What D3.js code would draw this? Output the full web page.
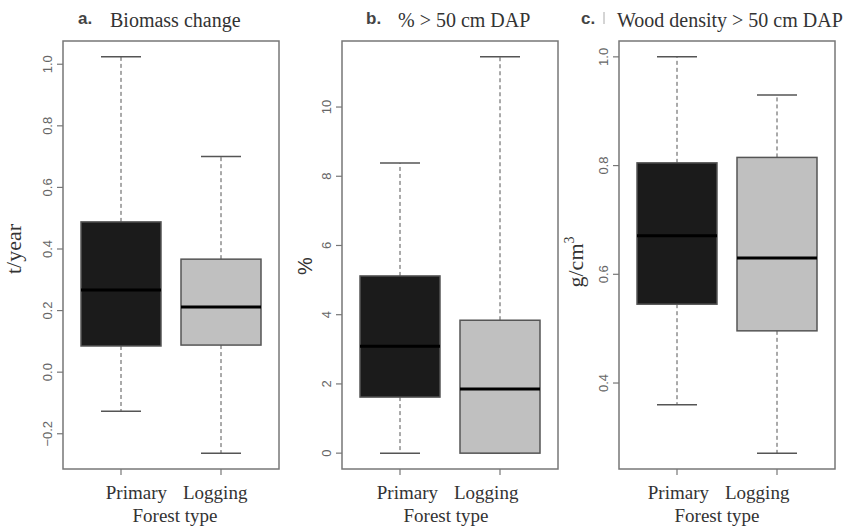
<!DOCTYPE html>
<meta charset="utf-8">
<style>
body { margin:0; background:#fff; }
svg { display:block; }
.tick-label { font-family:"Liberation Sans", Arial, sans-serif; font-size:13px; fill:#666; }
.serif { font-family:"Liberation Serif", "Times New Roman", serif; fill:#333; }
.letter { font-family:"Liberation Sans", Arial, sans-serif; font-weight:bold; font-size:17px; fill:#444; }
.frame { fill:none; stroke:#777; stroke-width:1.5px; }
</style>
<body>
<script src="https://d3js.org/d3.v7.min.js"></script>
<script>

// five-number summaries: [lower whisker, Q1, median, Q3, upper whisker]
var groups = ["Primary", "Logging"];
var biomassStats = [[-0.127, 0.085, 0.267, 0.488, 1.024], [-0.263, 0.088, 0.212, 0.367, 0.70]];
var dapStats     = [[0, 1.62, 3.09, 5.12, 8.38], [0, 0, 1.85, 3.84, 11.45]];
var densityStats = [[0.36, 0.545, 0.671, 0.805, 1.0], [0.271, 0.496, 0.63, 0.815, 0.93]];
var biomassTicks = [-0.2, 0, 0.2, 0.4, 0.6, 0.8, 1.0];
var dapTicks     = [0, 2, 4, 6, 8, 10];
var densityTicks = [0.4, 0.6, 0.8, 1.0];

var fills = ["#1b1b1b", "#c0c0c0"];

var panels = [
  {letter:"a.", title:"Biomass change", ylab:"t/year", stats:biomassStats, ticks:biomassTicks, fmt:d3.format(".1f"),
   left:63, letterX:78, titleX:110, ylabX:21, ylabY:249, shift:4, sans:false},
  {letter:"b.", title:"% > 50 cm DAP", ylab:"%", stats:dapStats, ticks:dapTicks, fmt:d3.format("d"),
   left:342, letterX:366, titleX:398, ylabX:312, ylabY:266, shift:-4, sans:true},
  {letter:"c.", title:"Wood density > 50 cm DAP", ylab:"g/cm", stats:densityStats, ticks:densityTicks, fmt:d3.format(".1f"),
   left:619, letterX:581, titleX:617, barX:604, ylabX:583, ylabY:262, shift:-10, sans:false, sup:"3"}
];

var W = 844, H = 526, plotTop = 41, plotBottom = 469, pw = 216;

var svg = d3.select("body").append("svg").attr("width", W).attr("height", H);

panels.forEach(function(p){
  var g = svg.append("g");
  var lo = d3.min(p.stats, d => d[0]), hi = d3.max(p.stats, d => d[4]);
  var pad = (hi - lo) * 0.04;
  var y = d3.scaleLinear().domain([lo - pad, hi + pad]).range([plotBottom, plotTop]);
  var x = d3.scaleLinear().domain([0.42, 2.58]).range([p.left, p.left + pw]);
  var bw = x(1.4) - x(1);

  p.stats.forEach(function(s, i){
    var cx = x(i + 1);
    // whiskers
    g.append("line").attr("x1", cx).attr("x2", cx).attr("y1", y(s[3])).attr("y2", y(s[4]))
      .attr("stroke", "#555").attr("stroke-dasharray", "4,3");
    g.append("line").attr("x1", cx).attr("x2", cx).attr("y1", y(s[1])).attr("y2", y(s[0]))
      .attr("stroke", "#555").attr("stroke-dasharray", "4,3");
    [s[0], s[4]].forEach(function(v){
      g.append("line").attr("x1", cx - bw/2).attr("x2", cx + bw/2).attr("y1", y(v)).attr("y2", y(v))
        .attr("stroke", "#555").attr("stroke-width", 1.5);
    });
    g.append("rect").attr("x", cx - bw).attr("width", bw*2)
      .attr("y", y(s[3])).attr("height", Math.max(0, y(s[1]) - y(s[3])))
      .attr("fill", fills[i]).attr("stroke", "#555").attr("stroke-width", 1.5);
    g.append("line").attr("x1", cx - bw).attr("x2", cx + bw).attr("y1", y(s[2])).attr("y2", y(s[2]))
      .attr("stroke", "#000").attr("stroke-width", 3);
    // x tick
    g.append("line").attr("x1", cx).attr("x2", cx).attr("y1", plotBottom).attr("y2", plotBottom + 6)
      .attr("stroke", "#777").attr("stroke-width", 1.2);
  });

  g.append("rect").attr("class", "frame").attr("x", p.left).attr("y", plotTop)
    .attr("width", pw).attr("height", plotBottom - plotTop);

  // y axis ticks
  p.ticks.forEach(function(t){
    g.append("line").attr("x1", p.left - 6).attr("x2", p.left).attr("y1", y(t)).attr("y2", y(t))
      .attr("stroke", "#777").attr("stroke-width", 1.2);
    g.append("text").attr("class", "tick-label")
      .attr("transform", "translate(" + (p.left - 11) + "," + y(t) + ") rotate(-90)")
      .attr("text-anchor", "middle").text(p.fmt(t));
  });

  // y label
  var yl = g.append("text")
    .attr("transform", "translate(" + p.ylabX + "," + p.ylabY + ") rotate(-90)")
    .attr("text-anchor", "middle");
  if (p.sans) {
    yl.attr("font-family", "Liberation Sans, Arial, sans-serif").attr("font-size", 20).attr("fill", "#333").text(p.ylab);
  } else {
    yl.attr("class", "serif").attr("font-size", 22).text(p.ylab);
    if (p.sup) yl.append("tspan").attr("font-size", 14).attr("dy", -9).text(p.sup);
  }

  // group labels + x title
  var mid = p.left + pw/2 + p.shift;
  g.append("text").attr("class", "serif").attr("font-size", 19).attr("x", mid - 8).attr("y", 499)
    .attr("text-anchor", "end").text(groups[0]);
  g.append("text").attr("class", "serif").attr("font-size", 19).attr("x", mid + 8).attr("y", 499)
    .attr("text-anchor", "start").text(groups[1]);
  g.append("text").attr("class", "serif").attr("font-size", 19).attr("x", mid).attr("y", 522)
    .attr("text-anchor", "middle").text("Forest type");

  // title
  g.append("text").attr("class", "letter").attr("x", p.letterX).attr("y", 24).text(p.letter);
  if (p.barX) {
    g.append("line").attr("x1", p.barX).attr("x2", p.barX).attr("y1", 12).attr("y2", 24)
      .attr("stroke", "#aaa").attr("stroke-width", 1);
  }
  g.append("text").attr("class", "serif").attr("font-size", 20)
    .attr("x", p.titleX).attr("y", 27).text(p.title);
});

</script>
</body>
